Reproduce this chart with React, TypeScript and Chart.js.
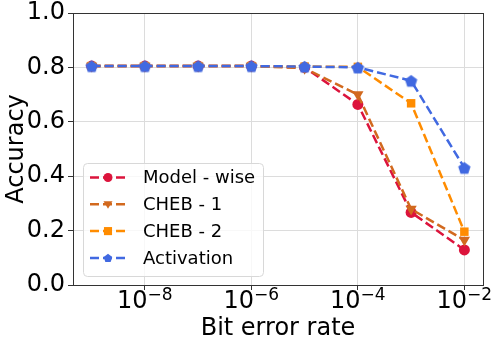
import React, { useEffect, useRef } from "react";
import { Chart, registerables } from "chart.js";

Chart.register(...registerables);

const xValues = [1e-9, 1e-8, 1e-7, 1e-6, 1e-5, 1e-4, 1e-3, 1e-2];
const modelWise = [0.805, 0.805, 0.805, 0.805, 0.8, 0.664, 0.267, 0.129];
const cheb1 = [0.805, 0.805, 0.805, 0.805, 0.797, 0.7, 0.279, 0.165];
const cheb2 = [0.805, 0.805, 0.805, 0.805, 0.803, 0.802, 0.668, 0.196];
const activation = [0.805, 0.805, 0.805, 0.805, 0.803, 0.8, 0.751, 0.431];
const seriesLabels = ["Model - wise", "CHEB - 1", "CHEB - 2", "Activation"];
const seriesColors = ["#DC143C", "#D2691E", "#FF8C00", "#4169E1"];
const xTickValues = [1e-8, 1e-6, 1e-4, 1e-2];
const yTickValues = [0, 0.2, 0.4, 0.6, 0.8, 1.0];

const FONT = "'DejaVu Sans', sans-serif";

function pentagonCanvas(color: string, r: number) {
  const s = Math.ceil(r * 2 + 2);
  const c = document.createElement("canvas");
  c.width = s;
  c.height = s;
  const ctx = c.getContext("2d")!;
  ctx.fillStyle = color;
  ctx.beginPath();
  for (let i = 0; i < 5; i++) {
    const a = -Math.PI / 2 + (i * 2 * Math.PI) / 5;
    const x = s / 2 + r * Math.cos(a);
    const y = s / 2 + r * Math.sin(a) + r * 0.1;
    if (i === 0) ctx.moveTo(x, y);
    else ctx.lineTo(x, y);
  }
  ctx.closePath();
  ctx.fill();
  return c;
}

function drawMarker(ctx: CanvasRenderingContext2D, kind: number, x: number, y: number, r: number, color: string) {
  ctx.save();
  ctx.fillStyle = color;
  ctx.beginPath();
  if (kind === 0) {
    ctx.arc(x, y, r, 0, Math.PI * 2);
  } else if (kind === 1) {
    ctx.moveTo(x - r, y - r * 0.7);
    ctx.lineTo(x + r, y - r * 0.7);
    ctx.lineTo(x, y + r);
    ctx.closePath();
  } else if (kind === 2) {
    ctx.rect(x - r * 0.9, y - r * 0.9, r * 1.8, r * 1.8);
  } else {
    for (let i = 0; i < 5; i++) {
      const a = -Math.PI / 2 + (i * 2 * Math.PI) / 5;
      const px = x + r * Math.cos(a);
      const py = y + r * Math.sin(a) + r * 0.1;
      if (i === 0) ctx.moveTo(px, py);
      else ctx.lineTo(px, py);
    }
    ctx.closePath();
  }
  ctx.fill();
  ctx.restore();
}

const framePlugin = {
  id: "frameLegend",
  afterDraw(chart: any) {
    const ctx: CanvasRenderingContext2D = chart.ctx;
    const a = chart.chartArea;
    ctx.save();
    ctx.strokeStyle = "#333";
    ctx.lineWidth = 1;
    ctx.strokeRect(Math.round(a.left) + 0.5, Math.round(a.top) + 0.5, Math.round(a.right - a.left), Math.round(a.bottom - a.top));

    // x tick labels with superscript exponents
    const xs = chart.scales.x;
    ctx.fillStyle = "#000";
    ctx.textBaseline = "alphabetic";
    ctx.textAlign = "left";
    for (const v of xTickValues) {
      const px = xs.getPixelForValue(v);
      const exp = "\u2212" + String(Math.abs(Math.round(Math.log10(v))));
      ctx.font = `24px ${FONT}`;
      const w1 = ctx.measureText("10").width;
      ctx.font = `17px ${FONT}`;
      const w2 = ctx.measureText(exp).width;
      const x0 = px - (w1 + w2) / 2;
      const base = a.bottom + 23;
      ctx.font = `24px ${FONT}`;
      ctx.fillText("10", x0, base);
      ctx.font = `17px ${FONT}`;
      ctx.fillText(exp, x0 + w1, base - 8);
    }

    // legend
    const bx = a.left + 10, by = a.top + 150, bw = 180, bh = 113;
    ctx.fillStyle = "rgba(255,255,255,0.8)";
    ctx.strokeStyle = "#d8d8d8";
    ctx.beginPath();
    (ctx as any).roundRect(bx + 0.5, by + 0.5, bw, bh, 4);
    ctx.fill();
    ctx.stroke();
    const rowY0 = by + 14.5;
    const rowGap = 26.8;
    for (let i = 0; i < 4; i++) {
      const y = rowY0 + i * rowGap;
      const color = seriesColors[i];
      ctx.strokeStyle = color;
      ctx.lineWidth = 2.5;
      ctx.setLineDash([9, 4]);
      ctx.beginPath();
      ctx.moveTo(bx + 7, y);
      ctx.lineTo(bx + 42, y);
      ctx.stroke();
      ctx.setLineDash([]);
      drawMarker(ctx, i, bx + 25, y, 4.5, color);
      ctx.fillStyle = "#000";
      ctx.font = `18px ${FONT}`;
      ctx.textBaseline = "middle";
      ctx.textAlign = "left";
      ctx.fillText(seriesLabels[i], bx + 60, y + 1);
    }
    ctx.restore();
  },
};

export default function App() {
  const ref = useRef<HTMLCanvasElement>(null);
  useEffect(() => {
    document.body.style.margin = "0";
    const pent = pentagonCanvas(seriesColors[3], 6.5);
    const series = [modelWise, cheb1, cheb2, activation];
    const styles: any[] = ["circle", "triangle", "rect", pent];
    const datasets = series.map((vals, i) => ({
      label: seriesLabels[i],
      data: vals.map((v, j) => ({ x: xValues[j], y: v })),
      borderColor: seriesColors[i],
      backgroundColor: seriesColors[i],
      borderWidth: 2.5,
      borderDash: [9, 4],
      pointStyle: styles[i],
      pointRotation: i === 1 ? 180 : 0,
      pointRadius: i === 2 ? 6 : i === 1 ? 6.5 : 5.5,
      pointBorderWidth: 0,
      pointBackgroundColor: seriesColors[i],
      order: 3 - i,
      tension: 0,
    }));
    const chart = new Chart(ref.current!, {
      type: "line",
      data: { datasets },
      options: {
        animation: false,
        responsive: false,
        events: [],
        layout: { padding: { top: 13, right: 15, left: 0, bottom: 0 } },
        plugins: { legend: { display: false }, tooltip: { enabled: false } },
        scales: {
          x: {
            type: "logarithmic",
            min: Math.pow(10, -9.35),
            max: Math.pow(10, -1.65),
            afterBuildTicks: (s: any) => {
              s.ticks = xTickValues.map((v) => ({ value: v }));
            },
            afterFit: (s: any) => {
              s.height = 59;
              s.paddingLeft = 0;
              s.paddingRight = 0;
            },
            ticks: {
              autoSkip: false,
              maxRotation: 0,
              color: "rgba(0,0,0,0)",
              padding: 2,
              font: { family: FONT, size: 24 },
              callback: (v: any) => "10^" + Math.round(Math.log10(Number(v))),
            },
            grid: { color: "#dcdcdc", lineWidth: 1, tickLength: 5, tickColor: "#333" },
            border: { color: "#333", width: 1 },
            title: { display: true, text: "Bit error rate", color: "#000", font: { family: FONT, size: 24 }, padding: { top: 0, bottom: 1 } },
          },
          y: {
            type: "linear",
            min: 0,
            max: 1,
            afterBuildTicks: (s: any) => {
              s.ticks = yTickValues.map((v) => ({ value: v }));
            },
            afterFit: (s: any) => {
              s.width = 73;
              s.paddingTop = 0;
              s.paddingBottom = 0;
            },
            ticks: {
              color: "#000",
              padding: 3,
              font: { family: FONT, size: 24 },
              callback: (v: any) => Number(v).toFixed(1),
            },
            grid: { color: "#dcdcdc", lineWidth: 1, tickLength: 5, tickColor: "#333" },
            border: { color: "#333", width: 1 },
            title: { display: true, text: "Accuracy", color: "#000", font: { family: FONT, size: 24 }, padding: { top: 2, bottom: 0 } },
          },
        },
      },
      plugins: [framePlugin],
    });
    return () => chart.destroy();
  }, []);
  return <canvas ref={ref} width={498} height={344} style={{ display: "block" }} />;
}
